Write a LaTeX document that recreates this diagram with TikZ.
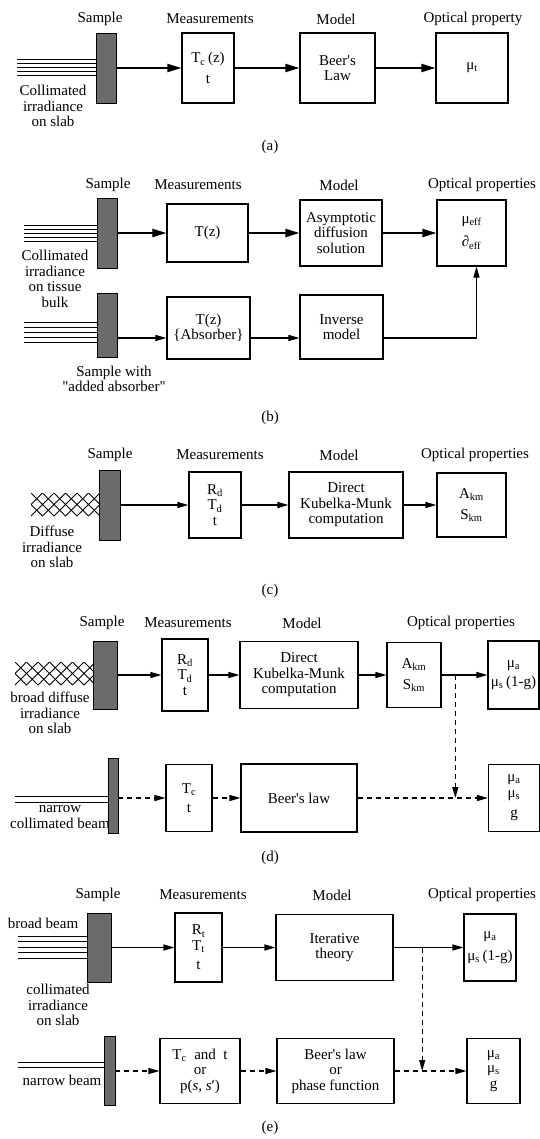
\documentclass[tikz,border=0pt]{standalone}
\usepackage{fontspec}
\setmainfont{Liberation Serif}
\usetikzlibrary{arrows.meta,positioning,calc}
\newcommand{\figfont}{\fontsize{15}{15.5}\selectfont}
\newcommand{\ssb}[2]{#1\textsubscript{#2}}
\newcommand{\beers}{Beer\textquotesingle s}
% diffuse irradiance: a clipped diamond lattice, #1,#2 top left, #3,#4 bottom right
\newcommand{\diffbeam}[4]{%
  \begin{scope}
    \clip (#1,#2) rectangle (#3,#4);
    \foreach \k in {-3,...,9}
      \draw[line width=0.9pt] ({#1+\k*11.5},#2) -- ++(23,23)
                              ({#1+\k*11.5},#4) -- ++(23,-23);
  \end{scope}}
\tikzset{
  blk/.style={draw=black, line width=1.1pt, fill=white, inner sep=0pt,
              align=center, font=\figfont},
  slab/.style={draw=black, line width=0.9pt, fill=black!58, inner sep=0pt},
  hd/.style={font=\figfont, inner sep=0pt},
  lbl/.style={font=\figfont, align=center, inner sep=0pt},
  beam/.style={draw=black, line width=0.9pt},
  fl/.style={-{Triangle[length=11pt,width=6pt]}, draw=black, line width=1.2pt},
  fat/.style={-{Triangle[length=14pt,width=8pt]}, draw=black, line width=2pt},
  dsh/.style={fl, dash pattern=on 5pt off 4pt},
}

\begin{document}
\begin{tikzpicture}[x=1pt, y=-1pt]
\useasboundingbox (0,0) rectangle (540,1139);

% =====================================================================
% (a)
\foreach \x/\t [count=\i] in {100/Sample, 210/Measurements, 336/Model, 473/Optical property}
  \node[hd] (hA\i) at (\x,19) {\t};
\foreach \y in {59,63,67,71,75}
  \draw[beam] (17,\y) -- (97,\y);
\node[slab, minimum width=20pt, minimum height=70pt] (smpA) at (106,68) {};
\node[blk, minimum width=52pt, minimum height=70pt] (measA) at (208,68) {\ssb{T}{c}\,(z)\\[5pt]t};
\node[blk, minimum width=75pt, minimum height=70pt] (modA) at (337.5,68) {\beers\\Law};
\node[blk, minimum width=72pt, minimum height=70pt] (optA) at (472,68) {\ssb{μ}{t}};
\node[lbl] (srcA) at (53,106) {Collimated\\irradiance\\on slab};
\foreach \a/\b in {smpA/measA, measA/modA, modA/optA}
  \draw[fat] (\a) -- (\b);
\node[hd] (capA) at (270,147) {(a)};

% =====================================================================
% (b)
\foreach \x/\t [count=\i] in {108/Sample, 198/Measurements, 339/Model, 482/Optical properties}
  \node[hd] (hB\i) at (\x,185) {\t};
\foreach \y in {225,229,233,237,241}
  \draw[beam] (24,\y) -- (97,\y);
\node[slab, minimum width=20pt, minimum height=70pt] (smpB) at (107,233) {};
\node[blk, minimum width=81pt, minimum height=58pt] (measB) at (207.5,233) {T(z)};
\node[blk, minimum width=82pt, minimum height=66pt] (modB) at (341,233) {Asymptotic\\diffusion\\solution};
\node[blk, minimum width=69pt, minimum height=66pt] (optB) at (471.5,233)
  {\ssb{μ}{eff}\\[8pt]\ssb{∂}{eff}};
\node[lbl] (srcB) at (55,279) {Collimated\\irradiance\\on tissue\\bulk};
\foreach \a/\b in {smpB/measB, measB/modB, modB/optB}
  \draw[fat] (\a) -- (\b);

% sample with the added absorber
\foreach \y in {322,327,332,337,342}
  \draw[beam] (24,\y) -- (97,\y);
\node[slab, minimum width=20pt, minimum height=64pt] (smpB2) at (107,325) {};
\node[blk, minimum width=83pt, minimum height=62pt] (measB2) at (208.5,328) {T(z)\\\{Absorber\}};
\node[blk, minimum width=83pt, minimum height=64pt] (modB2) at (341.5,327) {Inverse\\model};
\node[lbl] (noteB) at (114,379) {Sample with\\\textquotedbl added absorber\textquotedbl};
\coordinate (rowB) at (0,338);
\coordinate (upB) at ([xshift=5pt]optB.south);
\draw[fl] (smpB2.east |- rowB) -- (measB2.west |- rowB);
\draw[fl] (measB2.east |- rowB) -- (modB2.west |- rowB);
\draw[fl] (modB2.east |- rowB) -- (upB |- rowB) -- (upB);
\node[hd] (capB) at (270,418) {(b)};

% =====================================================================
% (c)
\foreach \x/\t [count=\i] in {110/Sample, 220/Measurements, 339/Model, 475/Optical properties}
  \node[hd] (hC\i) at (\x,455) {\t};
\diffbeam{31}{493}{99}{516}
\node[slab, minimum width=21pt, minimum height=70pt] (smpC) at (109.5,505) {};
\node[blk, minimum width=52pt, minimum height=66pt] (measC) at (215,505)
  {\ssb{R}{d}\\\ssb{T}{d}\\t};
\node[blk, minimum width=114pt, minimum height=66pt] (modC) at (346,505)
  {Direct\\Kubelka-Munk\\computation};
\node[blk, minimum width=69pt, minimum height=64pt] (optC) at (471.5,505)
  {\ssb{A}{km}\\[6pt]\ssb{S}{km}};
\node[lbl] (srcC) at (52,547) {Diffuse\\irradiance\\on slab};
\foreach \a/\b in {smpC/measC, measC/modC, modC/optC}
  \draw[fl] (\a) -- (\b);
\node[hd] (capC) at (270,591) {(c)};

% =====================================================================
% (d)
\foreach \x/\t [count=\i] in {102/Sample, 188/Measurements, 302/Model, 461/Optical properties}
  \node[hd] (hD\i) at (\x,623) {\t};
\diffbeam{15}{662}{93}{685}
\node[lbl] (srcD) at (50,713) {broad diffuse\\irradiance\\on slab};
\node[slab, minimum width=24pt, minimum height=68pt] (smpD) at (105,675) {};
\node[blk, minimum width=46pt, minimum height=72pt] (measD) at (185,675)
  {\ssb{R}{d}\\\ssb{T}{d}\\t};
\node[blk, minimum width=118pt, minimum height=67pt] (modD) at (299,675)
  {Direct\\Kubelka-Munk\\computation};
\node[blk, minimum width=54pt, minimum height=65pt] (kmD) at (414,675)
  {\ssb{A}{km}\\[6pt]\ssb{S}{km}};
\node[blk, minimum width=51pt, minimum height=68pt] (optD) at (513.5,675)
  {\ssb{μ}{a}\\[4pt]\ssb{μ}{s}\,(1-g)};
\foreach \a/\b in {smpD/measD, measD/modD, modD/kmD, kmD/optD}
  \draw[fl] (\a) -- (\b);

% narrow collimated beam
\foreach \y in {796,802}
  \draw[beam] (15,\y) -- (108,\y);
\node[lbl] (srcD2) at (60,817) {narrow\\collimated beam};
\node[slab, minimum width=10pt, minimum height=75pt] (smpD2) at (113,796) {};
\node[blk, minimum width=46pt, minimum height=67pt] (measD2) at (189,798) {\ssb{T}{c}\\[4pt]t};
\node[blk, minimum width=116pt, minimum height=68pt] (modD2) at (299,798) {\beers{} law};
\node[blk, minimum width=51pt, minimum height=67pt] (optD2) at (514,798)
  {\ssb{μ}{a}\\\ssb{μ}{s}\\[5pt]g};
\draw[dsh] (smpD2.east |- measD2) -- (measD2);
\foreach \a/\b in {measD2/modD2, modD2/optD2}
  \draw[dsh] (\a) -- (\b);
\coordinate (jD) at ($(kmD.east)!0.3!(optD.west)$);
\draw[dsh] (jD) -- (jD |- optD2.west);
\node[hd] (capD) at (270,858) {(d)};

% =====================================================================
% (e)
\foreach \x/\t [count=\i] in {98/Sample, 203/Measurements, 332/Model, 482/Optical properties}
  \node[hd] (hE\i) at (\x,895) {\t};
\node[hd] (srcE) at (43,923) {broad beam};
\foreach \y in {936,941.5,947,952.5,958}
  \draw[beam] (18,\y) -- (87,\y);
\node[slab, minimum width=24pt, minimum height=69pt] (smpE) at (99,947.5) {};
\node[blk, minimum width=47pt, minimum height=69pt] (measE) at (198.5,947.5)
  {\ssb{R}{t}\\\ssb{T}{t}\\[4pt]t};
\node[blk, minimum width=117pt, minimum height=66pt] (modE) at (334.5,947.5) {Iterative\\theory};
\node[blk, minimum width=52pt, minimum height=67pt] (optE) at (490,947.5)
  {\ssb{μ}{a}\\[6pt]\ssb{μ}{s}\,(1-g)};
\node[lbl] (noteE) at (58,1005) {collimated\\irradiance\\on slab};
\foreach \a/\b in {smpE/measE, measE/modE, modE/optE}
  \draw[fl] (\a) -- (\b);

% narrow beam
\foreach \y in {1062,1067}
  \draw[beam] (18,\y) -- (104,\y);
\node[hd] (srcE2) at (62,1080) {narrow beam};
\node[slab, minimum width=11pt, minimum height=69pt] (smpE2) at (109.5,1071) {};
\node[blk, minimum width=80pt, minimum height=65pt] (measE2) at (200,1071)
  {\ssb{T}{c}\ \ and\ \ t\\or\\p(\textit{s}, \textit{s}′)};
\node[blk, minimum width=117pt, minimum height=65pt] (modE2) at (335.5,1071)
  {\beers{} law\\or\\phase function};
\node[blk, minimum width=53pt, minimum height=65pt] (optE2) at (493.5,1071)
  {\ssb{μ}{a}\\\ssb{μ}{s}\\g};
\foreach \a/\b in {smpE2/measE2, measE2/modE2, modE2/optE2}
  \draw[dsh] (\a) -- (\b);
\coordinate (jE) at ($(modE.east)!0.41!(optE.west)$);
\draw[dsh] (jE) -- (jE |- optE2.west);
\node[hd] (capE) at (270,1128) {(e)};

\end{tikzpicture}
\end{document}
